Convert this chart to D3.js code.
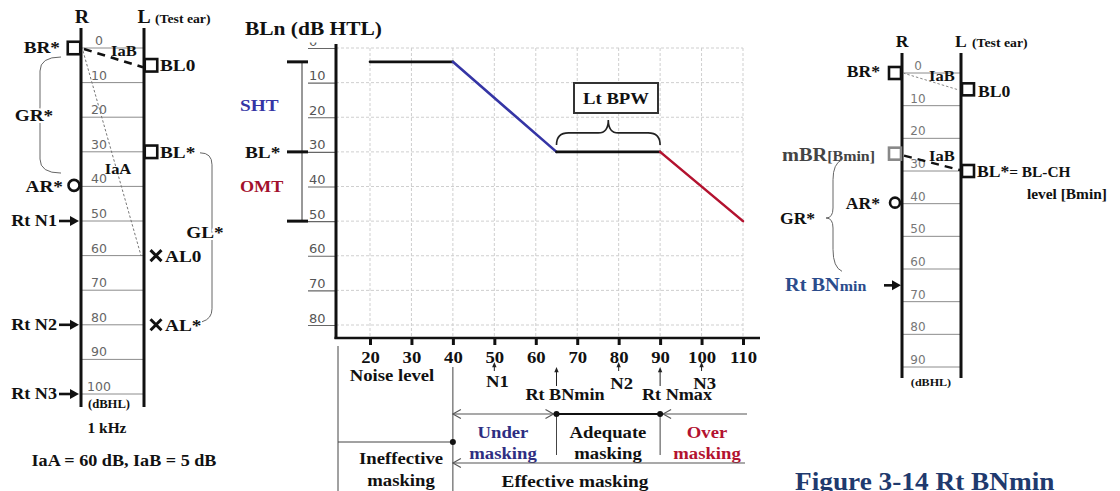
<!DOCTYPE html>
<html><head><meta charset="utf-8">
<script src="https://cdn.jsdelivr.net/npm/d3@7"></script>
<style>
body{margin:0;background:#fff;}
svg{display:block;}
text.b{font-family:"Liberation Serif","Times New Roman",serif;font-weight:bold;}
text.s{font-family:"DejaVu Sans","Liberation Sans",Arial,sans-serif;}
</style></head><body>
<svg id="fig" width="1120" height="491"></svg>
<script>
// ---- data ----
const leftDbTicks = [0,10,20,30,40,50,60,70,80,90,100];
const rightDbTicks = [0,10,20,30,40,50,60,70,80,90];
const blnTicks = [0,10,20,30,40,50,60,70,80];
const noiseTicks = [20,30,40,50,60,70,80,90,100,110];

// BLn as a function of the right-ear masking noise level
const noiseLevels = [20,40,65,90,110];
const blnLevels = [4,4,30,30,50];
const segmentColors = ["#111","#3535a5","#111","#b3122f"];

// 1 kHz thresholds, left panel (dB HL)
const leftBone = [{name:"BR*",ear:"R",db:0},{name:"BL0",ear:"L",db:5},{name:"BL*",ear:"L",db:30}];
const leftAir = [{name:"AR*",ear:"R",db:40},{name:"AL0",ear:"L",db:60},{name:"AL*",ear:"L",db:80}];
const leftNoise = [{name:"Rt N1",db:50},{name:"Rt N2",db:80},{name:"Rt N3",db:100}];

// thresholds, right panel (dB HL)
const rightBone = [{name:"BR*",ear:"R",db:0},{name:"BL0",ear:"L",db:5},{name:"BL*",ear:"L",db:30}];
const rightMaskedBone = 25;
const rightAir = 40;
const rightBNmin = 65;

// noise-level annotations under the BLn chart
const noiseMarks = [{name:"N1",db:50},{name:"N2",db:80},{name:"N3",db:100}];
const effectiveStart = 40, bnMin = 65, nMax = 90;
const shtRange = [4,30,50];

const svg = d3.select("#fig");
const LAB = 17.5;

function txt(g,x,y,s,size,opts={}){
  return g.append("text").attr("x",x).attr("y",y).attr("class",opts.cls||"b")
    .attr("font-size",size).attr("fill",opts.fill||"#111")
    .attr("text-anchor",opts.anchor||"start").text(s);
}
function square(g,cx,cy,side,color){
  g.append("rect").attr("x",cx-side/2).attr("y",cy-side/2).attr("width",side).attr("height",side)
    .attr("fill","none").attr("stroke",color||"#111").attr("stroke-width",2.6);
}
function cross(g,cx,cy,r){
  g.append("path").attr("d",`M${cx-r},${cy-r}L${cx+r},${cy+r}M${cx-r},${cy+r}L${cx+r},${cy-r}`)
    .attr("stroke","#111").attr("stroke-width",3);
}
function arrowRight(g,x1,x2,y){
  g.append("line").attr("x1",x1).attr("x2",x2-6).attr("y1",y).attr("y2",y).attr("stroke","#111").attr("stroke-width",2.6);
  g.append("path").attr("d",`M${x2},${y}L${x2-9},${y-5}L${x2-9},${y+5}Z`).attr("fill","#111");
}
function arrowUp(g,x,y1,y2,head){
  g.append("line").attr("x1",x).attr("x2",x).attr("y1",y1).attr("y2",y2+head).attr("stroke","#222").attr("stroke-width",1);
  g.append("path").attr("d",`M${x},${y2}L${x-head*0.55},${y2+head*1.3}L${x+head*0.55},${y2+head*1.3}Z`).attr("fill","#222");
}
function chevron(g,x,y,dir){
  g.append("path").attr("d",`M${x-dir*8},${y-4.5}L${x},${y}L${x-dir*8},${y+4.5}`)
    .attr("fill","none").attr("stroke","#555").attr("stroke-width",1.1);
}

// ================= Left panel =================
{
  const g = svg.append("g");
  const y = d3.scaleLinear().domain([0,100]).range([48,394]);
  const xR = 81, xL = 144;
  g.selectAll("line.grid").data(leftDbTicks).join("line").attr("class","grid")
    .attr("x1",xR).attr("x2",xL).attr("y1",d=>y(d)).attr("y2",d=>y(d))
    .attr("stroke","#8c8c8c").attr("stroke-width",1);
  g.selectAll("text.tick").data(leftDbTicks).join("text").attr("class","s")
    .attr("x",99).attr("y",d=>y(d)-3).attr("text-anchor","middle")
    .attr("font-size",12.5).attr("fill","#666").text(d=>d);
  [xR,xL].forEach(x=>g.append("line").attr("x1",x).attr("x2",x).attr("y1",28).attr("y2",407)
    .attr("stroke","#111").attr("stroke-width",3));
  txt(g,xR+1,23,"R",18,{anchor:"middle"});
  txt(g,xL,23,"L",18,{anchor:"middle"});
  txt(g,155,23,"(Test ear)",12.5);
  txt(g,109,408,"(dBHL)",11.5,{anchor:"middle"});
  txt(g,107,433,"1 kHz",14,{anchor:"middle"});
  txt(g,124,466,"IaA = 60 dB, IaB = 5 dB",16.5,{anchor:"middle"});

  // IaA (air) and IaB (bone) crossover lines
  g.append("line").attr("x1",xR+2).attr("y1",y(0)+3).attr("x2",xL-3).attr("y2",y(60))
    .attr("stroke","#777").attr("stroke-width",1).attr("stroke-dasharray","2.5,2");
  g.append("line").attr("x1",xR+3).attr("y1",y(0)+1).attr("x2",xL-1).attr("y2",y(5)+2)
    .attr("stroke","#111").attr("stroke-width",2.6).attr("stroke-dasharray","8,6");
  txt(g,111,56,"IaB",15);
  txt(g,118,174,"IaA",15,{anchor:"middle"});

  leftBone.forEach(d=>{
    const cx = d.ear==="R" ? xR-7 : xL+7;
    square(g,cx,y(d.db),12.5);
    if(d.ear==="R") txt(g,60,y(d.db)+5,d.name,LAB,{anchor:"end"});
    else txt(g,xL+16,y(d.db)+6,d.name,LAB);
  });
  leftAir.forEach(d=>{
    if(d.ear==="R"){
      g.append("circle").attr("cx",xR-7).attr("cy",y(d.db)-1).attr("r",5.5)
        .attr("fill","none").attr("stroke","#111").attr("stroke-width",2.6);
      txt(g,63,y(d.db)+6,d.name,LAB,{anchor:"end"});
    } else {
      cross(g,xL+12,y(d.db),5.5);
      txt(g,xL+21,y(d.db)+6,d.name,LAB);
    }
  });
  leftNoise.forEach(d=>{
    txt(g,57,y(d.db)+5,d.name,16.5,{anchor:"end"});
    arrowRight(g,59,xR-2,y(d.db));
  });

  // GR* brace
  const t1 = y(0)+9, t2 = y(36)+0.5, m = (t1+t2)/2;
  g.append("path").attr("d",`M61,${t1}Q40,${t1} 40,${t1+14}L40,${m-8}Q40,${m} 34,${m}Q40,${m} 40,${m+8}L40,${t2-14}Q40,${t2} 61,${t2}`)
    .attr("fill","none").attr("stroke","#666").attr("stroke-width",1);
  txt(g,34,m+6,"GR*",LAB,{anchor:"middle"}).attr("stroke","#fff").attr("stroke-width",4).attr("paint-order","stroke");
  // GL* brace
  const u1 = y(30)+1, u2 = y(80)-6;
  g.append("path").attr("d",`M200,${u1}Q212,${u1} 212,${u1+12}L212,${u2-10}Q212,${u2} 202,${u2+3}`)
    .attr("fill","none").attr("stroke","#666").attr("stroke-width",1);
  txt(g,205,238,"GL*",LAB,{anchor:"middle"}).attr("stroke","#fff").attr("stroke-width",4).attr("paint-order","stroke");
}

// ================= Middle panel =================
{
  const g = svg.append("g");
  const x = d3.scaleLinear().domain([20,110]).range([370,743]);
  const y = d3.scaleLinear().domain([0,80]).range([48,325]);
  const axisX = 336, axisY = 338;

  // dashed grid
  g.selectAll("line.hg").data(blnTicks).join("line")
    .attr("x1",axisX).attr("x2",x(110)).attr("y1",d=>y(d)).attr("y2",d=>y(d))
    .attr("stroke","#cfcfcf").attr("stroke-width",1).attr("stroke-dasharray","3,2");
  g.selectAll("line.vg").data(noiseTicks).join("line")
    .attr("x1",d=>x(d)).attr("x2",d=>x(d)).attr("y1",y(0)).attr("y2",axisY)
    .attr("stroke","#cfcfcf").attr("stroke-width",1).attr("stroke-dasharray","3,2");

  // y axis with labels sitting above the ticks; the top label is trimmed by the plot edge
  svg.append("defs").append("clipPath").attr("id","topclip")
    .append("rect").attr("x",-60).attr("y",42.5).attr("width",100).attr("height",400);
  const ya = g.append("g").attr("transform",`translate(${axisX},0)`).attr("clip-path","url(#topclip)")
    .call(d3.axisLeft(y).tickValues(blnTicks).tickSize(28).tickFormat(d=>d));
  ya.select(".domain").remove();
  ya.selectAll(".tick line").attr("stroke","#666").attr("stroke-width",1.2);
  ya.selectAll(".tick text").attr("class","s").attr("x",-27).attr("dy",-3).attr("text-anchor","start")
    .attr("font-size",13).attr("fill","#555");
  g.append("line").attr("x1",axisX).attr("x2",axisX).attr("y1",44).attr("y2",axisY+1)
    .attr("stroke","#111").attr("stroke-width",3);

  // x axis
  const xa = g.append("g").attr("transform",`translate(0,${axisY})`)
    .call(d3.axisBottom(x).tickValues(noiseTicks).tickSize(7).tickFormat(d=>d));
  xa.select(".domain").remove();
  xa.selectAll(".tick line").attr("stroke","#111").attr("stroke-width",3);
  xa.selectAll(".tick text").attr("class","b").attr("y",25).attr("dy",0)
    .attr("font-size",17).attr("fill","#111");
  g.append("line").attr("x1",axisX-1.5).attr("x2",760).attr("y1",axisY).attr("y2",axisY)
    .attr("stroke","#111").attr("stroke-width",2.4);

  txt(g,245,35,"BLn (dB HTL)",19.5);

  // BLn curve
  d3.pairs(noiseLevels.map((n,i)=>[n,blnLevels[i]])).forEach((p,i)=>{
    g.append("line").attr("x1",x(p[0][0])).attr("y1",y(p[0][1])).attr("x2",x(p[1][0])).attr("y2",y(p[1][1]))
      .attr("stroke",segmentColors[i]).attr("stroke-width",2.6).attr("stroke-linecap","round");
  });

  // SHT / OMT bracket
  g.append("line").attr("x1",302).attr("x2",302).attr("y1",y(shtRange[0])).attr("y2",y(shtRange[2]))
    .attr("stroke","#333").attr("stroke-width",1);
  shtRange.forEach(v=>g.append("line").attr("x1",287).attr("x2",308).attr("y1",y(v)).attr("y2",y(v))
    .attr("stroke","#111").attr("stroke-width",3));
  txt(g,240,111,"SHT",LAB,{fill:"#3535a5"});
  txt(g,245,y(30)+6,"BL*",LAB);
  txt(g,240,192,"OMT",16.5,{fill:"#a3102c"});

  // Lt BPW box and brace
  g.append("rect").attr("x",574).attr("y",83).attr("width",84).attr("height",30)
    .attr("fill","#fff").attr("stroke","#333").attr("stroke-width",2);
  txt(g,616,104,"Lt BPW",17,{anchor:"middle"});
  const b1 = x(bnMin), b2 = x(nMax), bm = (b1+b2)/2, by = y(30)-7;
  g.append("path").attr("d",`M${b1},${by}Q${b1},${by-12} ${b1+12},${by-12}L${bm-10},${by-12}Q${bm},${by-12} ${bm},${by-25}Q${bm},${by-12} ${bm+10},${by-12}L${b2-12},${by-12}Q${b2},${by-12} ${b2},${by}`)
    .attr("fill","none").attr("stroke","#222").attr("stroke-width",1.6);

  // region annotations
  g.append("line").attr("x1",338).attr("x2",338).attr("y1",346).attr("y2",491).attr("stroke","#444").attr("stroke-width",1);
  txt(g,392,381,"Noise level",17,{anchor:"middle"});
  const xe = x(effectiveStart);
  g.append("line").attr("x1",xe).attr("x2",xe).attr("y1",367).attr("y2",491).attr("stroke","#444").attr("stroke-width",1);
  g.append("line").attr("x1",338).attr("x2",xe).attr("y1",442).attr("y2",442).attr("stroke","#444").attr("stroke-width",1);
  g.append("circle").attr("cx",xe).attr("cy",442).attr("r",3).attr("fill","#111");
  txt(g,401,464,"Ineffective",17,{anchor:"middle"});
  txt(g,401,486,"masking",17,{anchor:"middle"});

  noiseMarks.forEach(d=>{
    arrowUp(g,x(d.db),371,362,4);
    txt(g,x(d.db)+3,d.name==="N1"?387:389,d.name,17,{anchor:"middle"});
  });
  const xb = x(bnMin), xn = x(nMax);
  arrowUp(g,xb,386,367,4); arrowUp(g,xn,386,367,4);
  txt(g,565,400,"Rt BNmin",16.5,{anchor:"middle"});
  txt(g,677,400,"Rt Nmax",16.5,{anchor:"middle"});

  const ly = 414;
  g.append("line").attr("x1",xe).attr("x2",xb).attr("y1",ly).attr("y2",ly).attr("stroke","#555").attr("stroke-width",1.1);
  chevron(g,xe,ly,-1); chevron(g,xb-3,ly,1);
  g.append("line").attr("x1",xb).attr("x2",xn).attr("y1",ly).attr("y2",ly).attr("stroke","#111").attr("stroke-width",2);
  g.append("line").attr("x1",xn).attr("x2",747).attr("y1",ly).attr("y2",ly).attr("stroke","#555").attr("stroke-width",1.1);
  chevron(g,xn+3,ly,-1);
  [xb,xn].forEach(v=>{
    g.append("line").attr("x1",v).attr("x2",v).attr("y1",ly).attr("y2",455).attr("stroke","#444").attr("stroke-width",1);
    g.append("circle").attr("cx",v).attr("cy",ly).attr("r",3).attr("fill","#111");
  });
  txt(g,503,438,"Under",17,{anchor:"middle",fill:"#2e2e82"});
  txt(g,503,459,"masking",17,{anchor:"middle",fill:"#2e2e82"});
  txt(g,608,438,"Adequate",17,{anchor:"middle"});
  txt(g,608,459,"masking",17,{anchor:"middle"});
  txt(g,707,438,"Over",17,{anchor:"middle",fill:"#b3122f"});
  txt(g,707,459,"masking",17,{anchor:"middle",fill:"#b3122f"});

  g.append("line").attr("x1",xe).attr("x2",745).attr("y1",463).attr("y2",463).attr("stroke","#555").attr("stroke-width",1.1);
  chevron(g,xe,463,-1);
  txt(g,575,487,"Effective masking",17.5,{anchor:"middle"});
}

// ================= Right panel =================
{
  const g = svg.append("g");
  const y = d3.scaleLinear().domain([0,90]).range([73,367]);
  const xR = 902, xL = 961;
  g.selectAll("line.grid").data(rightDbTicks).join("line")
    .attr("x1",xR).attr("x2",xL).attr("y1",d=>y(d)).attr("y2",d=>y(d))
    .attr("stroke","#8c8c8c").attr("stroke-width",1);
  g.selectAll("text.tick").data(rightDbTicks).join("text").attr("class","s")
    .attr("x",918).attr("y",d=>y(d)-3).attr("text-anchor","middle")
    .attr("font-size",12).attr("fill","#777").text(d=>d);
  [xR,xL].forEach(v=>g.append("line").attr("x1",v).attr("x2",v).attr("y1",53).attr("y2",378)
    .attr("stroke","#111").attr("stroke-width",3));
  txt(g,xR,47,"R",16,{anchor:"middle"});
  txt(g,xL,47,"L",16,{anchor:"middle"});
  txt(g,972,47,"(Test ear)",12.5);
  txt(g,931,386,"(dBHL)",11,{anchor:"middle"});

  g.append("line").attr("x1",xR+1).attr("y1",y(0)).attr("x2",xL-1).attr("y2",y(5)+1)
    .attr("stroke","#888").attr("stroke-width",1).attr("stroke-dasharray","2.5,2");
  txt(g,929,81,"IaB",15);
  g.append("line").attr("x1",xR+2).attr("y1",y(rightMaskedBone)+1).attr("x2",xL-1).attr("y2",y(30)-1)
    .attr("stroke","#111").attr("stroke-width",2.4).attr("stroke-dasharray","8,6");
  txt(g,929,161,"IaB",15);

  rightBone.forEach(d=>{
    const cx = d.ear==="R" ? xR-7 : xL+7;
    square(g,cx,y(d.db),12);
    if(d.ear==="R") txt(g,880,y(d.db)+4,d.name,16,{anchor:"end"});
  });
  txt(g,978,97,"BL0",16);
  const blt = txt(g,977,y(30)+6,"BL*",16);
  blt.append("tspan").attr("font-size",14).text("= BL-CH");
  txt(g,1027,199,"level [Bmin]",14);

  square(g,xR-7,y(rightMaskedBone)-1,12,"#888");
  const mbr = txt(g,782,y(rightMaskedBone)+6,"mBR",18.5,{fill:"#444"});
  mbr.append("tspan").attr("font-size",14.5).text("[Bmin]");

  g.append("circle").attr("cx",xR-7).attr("cy",y(rightAir)-1).attr("r",5).attr("fill","none")
    .attr("stroke","#111").attr("stroke-width",2.6);
  txt(g,880,y(rightAir)+5,"AR*",16,{anchor:"end"});

  // GR* brace (masked bone to BNmin)
  const t1 = y(rightMaskedBone)+5, t2 = y(rightBNmin)-14, m = 218;
  g.append("path").attr("d",`M842,${t1}Q833,${t1+4} 833,${t1+20}L833,${m-10}Q833,${m} 826,${m}Q833,${m} 833,${m+10}L833,${t2-22}Q833,${t2-4} 842,${t2}`)
    .attr("fill","none").attr("stroke","#666").attr("stroke-width",1);
  txt(g,780,224,"GR*",16);

  const bn = txt(g,785,y(rightBNmin)+6,"Rt BN",18.5,{fill:"#2b4c8c"});
  bn.append("tspan").attr("font-size",14.5).text("min");
  arrowRight(g,884,xR-1,y(rightBNmin));

  txt(g,795,490,"Figure 3-14 Rt BNmin",26,{fill:"#1f3a6e"});
}

// the serif lettering is set slightly wide: stretch each label about its anchor
svg.selectAll("text.b").each(function(){
  const t = d3.select(this);
  const ax = +t.attr("x") || 0;
  const k = t.text().startsWith("Figure") ? 1.05 : 1.1;
  t.attr("transform",`translate(${ax},0) scale(${k},1) translate(${-ax},0)`);
});
</script></body></html>
